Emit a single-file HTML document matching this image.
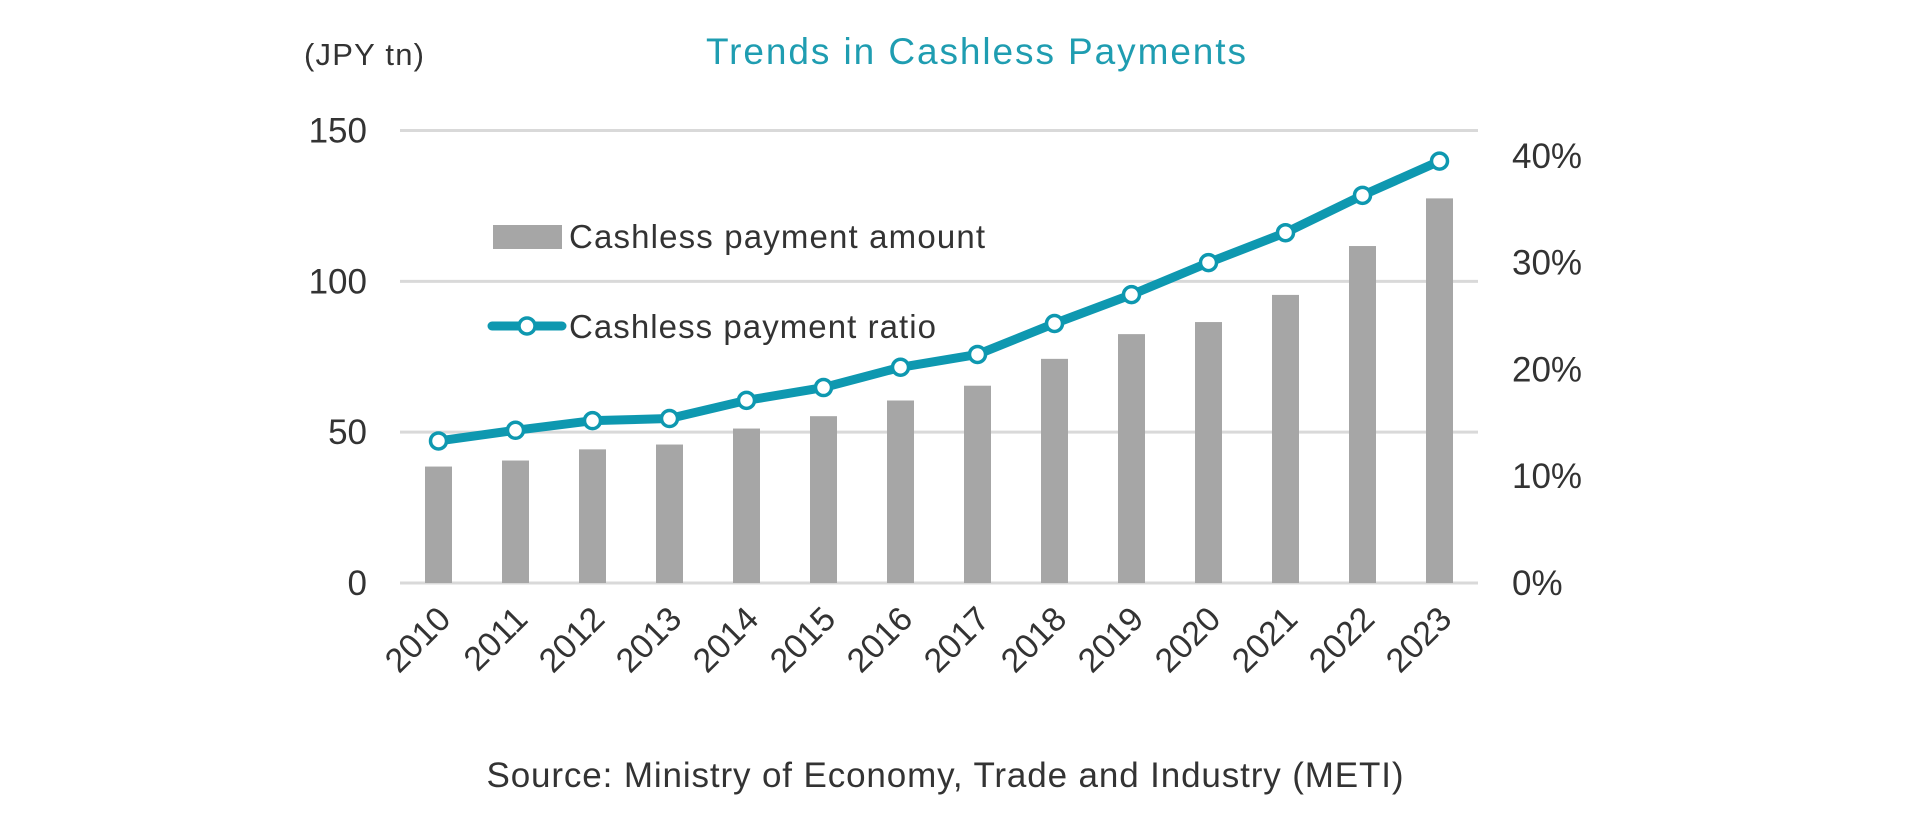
<!DOCTYPE html>
<html><head><meta charset="utf-8"><style>
html,body{margin:0;padding:0;background:#fff;}
svg{display:block;font-family:"Liberation Sans",sans-serif;}
</style></head><body>
<svg id="chart" width="1920" height="813" viewBox="0 0 1920 813">
<text x="976" y="64" text-anchor="middle" font-size="37" fill="#1f9db1" textLength="540">Trends in Cashless Payments</text>
<text x="304" y="65" font-size="31" fill="#333" textLength="120">(JPY tn)</text>
<g id="grid"></g>
<g id="bars"></g>
<g id="line"></g>
<g id="axes"></g>
<g>
<rect x="493" y="225" width="69" height="24" fill="#a6a6a6"/>
<text x="569" y="248" font-size="33" fill="#333" textLength="416">Cashless payment amount</text>
<line x1="492" y1="326" x2="562" y2="326" stroke="#0e98b0" stroke-width="9" stroke-linecap="round"/>
<circle cx="527" cy="326" r="8" fill="#fff" stroke="#0e98b0" stroke-width="3.5"/>
<text x="569" y="338" font-size="33" fill="#333" textLength="367">Cashless payment ratio</text>
</g>
<text x="945" y="787" text-anchor="middle" font-size="35" fill="#333" textLength="917">Source: Ministry of Economy, Trade and Industry (METI)</text>
</svg>
<script>
const years=["2010","2011","2012","2013","2014","2015","2016","2017","2018","2019","2020","2021","2022","2023"];
const amounts=[38.6,40.6,44.3,45.9,51.2,55.3,60.5,65.4,74.3,82.5,86.5,95.5,111.7,127.5];
const ratios=[13.3,14.3,15.2,15.4,17.1,18.3,20.2,21.4,24.3,27.0,30.0,32.8,36.3,39.5];
const leftTicks=[0,50,100,150];
const rightTicks=[0,10,20,30,40];
const NS="http://www.w3.org/2000/svg";
const X0=400,X1=1478,Y0=583,band=(X1-X0)/years.length;
function xC(i){return X0+band*(i+0.5);}
function yL(v){return Y0-v*(Y0-130.5)/150;}
function yR(p){return Y0-p*10.68;}
function mk(tag,attrs,parent){const e=document.createElementNS(NS,tag);for(const k in attrs)e.setAttribute(k,attrs[k]);parent.appendChild(e);return e;}
const grid=document.getElementById('grid'),bars=document.getElementById('bars'),line=document.getElementById('line'),axes=document.getElementById('axes');
leftTicks.forEach(t=>{
  const l=mk('line',{x1:X0,x2:X1,y1:yL(t),y2:yL(t),stroke:'#d9d9d9','stroke-width':3},grid);
  
  
  const tx=mk('text',{x:367,y:yL(t)+12,'text-anchor':'end','font-size':35,fill:'#333'},axes);
  tx.textContent=t;
  
  
});
rightTicks.forEach(t=>{
  const tx=mk('text',{x:1512,y:yR(t)+12,'font-size':35,fill:'#333'},axes);
  tx.textContent=t+'%';
  
  
});
amounts.forEach((v,i)=>{
  const r=mk('rect',{x:xC(i)-13.5,y:yL(v),width:27,height:Y0-yL(v),fill:'#a6a6a6'},bars);
  
  
  const tx=mk('text',{x:0,y:0,'text-anchor':'end','font-size':34,fill:'#333',transform:`translate(${xC(i)+14},${Y0+38}) rotate(-45)`},axes);
  tx.textContent=years[i];
  
  
});
const pts=ratios.map((p,i)=>xC(i)+','+yR(p)).join(' ');
const pl=mk('polyline',{points:pts,fill:'none',stroke:'#0e98b0','stroke-width':9,'stroke-linejoin':'round'},line);


ratios.forEach((p,i)=>{
  const c=mk('circle',{cx:xC(i),cy:yR(p),r:8,fill:'#fff',stroke:'#0e98b0','stroke-width':3.5},line);
  
  
});
</script>
</body></html>
